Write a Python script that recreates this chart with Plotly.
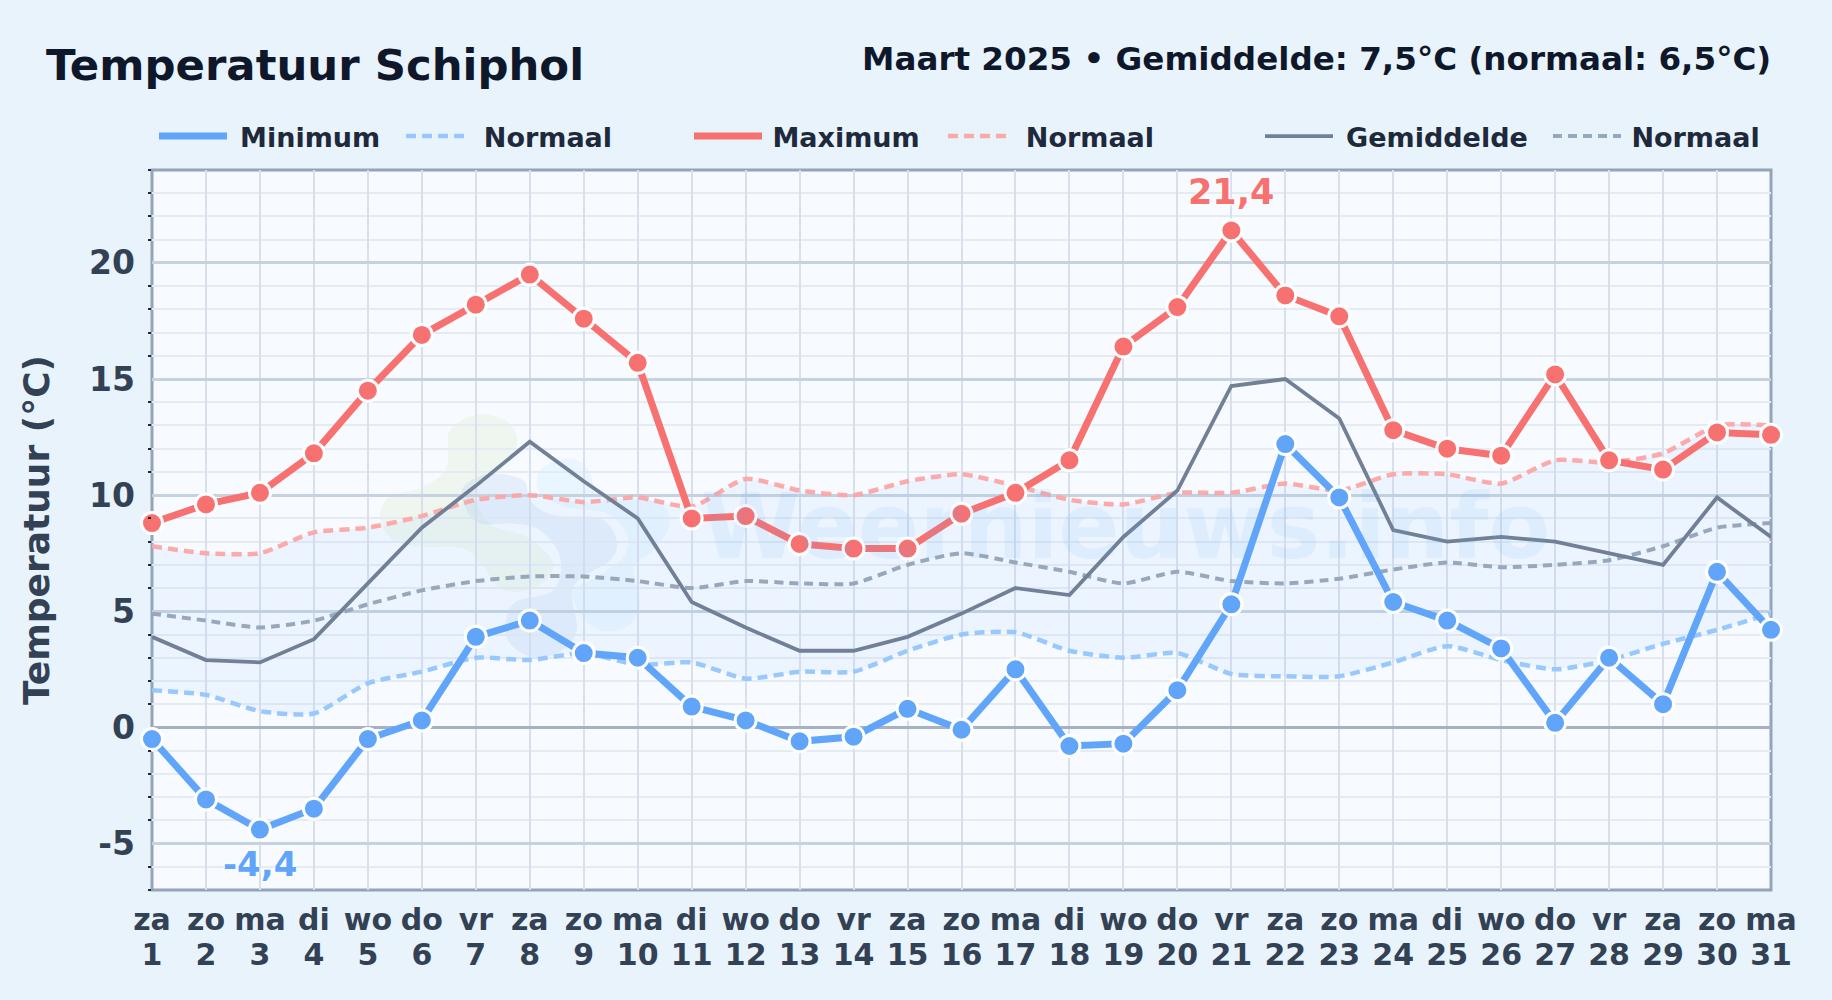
import plotly.graph_objects as go

days = list(range(1, 32))
weekdays = ["za","zo","ma","di","wo","do","vr","za","zo","ma","di","wo","do","vr","za","zo","ma","di","wo","do","vr","za","zo","ma","di","wo","do","vr","za","zo","ma"]
t_min = [-0.5,-3.1,-4.4,-3.5,-0.5,0.3,3.9,4.6,3.2,3.0,0.9,0.3,-0.6,-0.4,0.8,-0.1,2.5,-0.8,-0.7,1.6,5.3,12.2,9.9,5.4,4.6,3.4,0.2,3.0,1.0,6.7,4.2]
t_max = [8.8,9.6,10.1,11.8,14.5,16.9,18.2,19.5,17.6,15.7,9.0,9.1,7.9,7.7,7.7,9.2,10.1,11.5,16.4,18.1,21.4,18.6,17.7,12.8,12.0,11.7,15.2,11.5,11.1,12.7,12.6]
t_mean = [3.9,2.9,2.8,3.8,6.2,8.6,10.4,12.3,10.6,9.0,5.4,4.3,3.3,3.3,3.9,4.9,6.0,5.7,8.2,10.2,14.7,15.0,13.3,8.5,8.0,8.2,8.0,7.5,7.0,9.9,8.2]
norm_min = [1.6,1.4,0.7,0.6,1.9,2.4,3.0,2.9,3.2,2.7,2.8,2.1,2.4,2.4,3.3,4.0,4.1,3.3,3.0,3.2,2.3,2.2,2.2,2.8,3.5,2.9,2.5,2.9,3.6,4.2,4.9]
norm_max = [7.8,7.5,7.5,8.4,8.6,9.1,9.8,10.0,9.7,9.9,9.5,10.7,10.2,10.0,10.6,10.9,10.4,9.8,9.6,10.1,10.1,10.5,10.2,10.9,10.9,10.5,11.5,11.4,11.8,13.0,13.0]
norm_mean = [4.9,4.6,4.3,4.6,5.3,5.9,6.3,6.5,6.5,6.3,6.0,6.3,6.2,6.2,7.0,7.5,7.1,6.7,6.2,6.7,6.3,6.2,6.4,6.8,7.1,6.9,7.0,7.2,7.8,8.6,8.8]

BLUE = "#60a5fa"; RED = "#f87171"; SLATE = "#718096"
FONT = "DejaVu Sans"
W, H = 1832, 1000
L, R, T, B = 152, 1771, 169.5, 890

fig = go.Figure()
fig.add_trace(go.Scatter(x=days, y=norm_min, mode="lines", line=dict(width=0, shape="spline", smoothing=0.6), showlegend=False, hoverinfo="skip"))
fig.add_trace(go.Scatter(x=days, y=norm_max, mode="lines", line=dict(width=0, shape="spline", smoothing=0.6), fill="tonexty", fillcolor="rgba(147,197,253,0.10)", showlegend=False, hoverinfo="skip"))

def line(y, name, color, width, dash, legend, spline=False):
    fig.add_trace(go.Scatter(x=days, y=y, name=name, mode="lines", cliponaxis=False,
        line=dict(color=color, width=width, dash=dash, shape="spline" if spline else "linear", smoothing=0.6),
        legend=legend, hovertemplate=name.strip() + ": %{y}<extra></extra>"))

NB, THIN, HAIR = "\u00a0", "\u2009", "\u200a"
line(norm_min, NB + THIN + "Normaal", "rgba(147,197,253,0.95)", 4.5, "10px,6px", "legend2", spline=True)
line(norm_max, NB + THIN + "Normaal", "rgba(252,165,165,0.95)", 4.5, "10px,6px", "legend4", spline=True)
line(norm_mean, THIN + "Normaal", "rgba(148,163,184,0.95)", 4, "9px,6px", "legend6", spline=True)
line(t_mean, THIN + HAIR + "Gemiddelde", SLATE, 3.8, "solid", "legend5")
line(t_min, THIN + HAIR + "Minimum", BLUE, 7, "solid", "legend")
line(t_max, THIN + "Maximum", RED, 7, "solid", "legend3")

def markers(y, color):
    fig.add_trace(go.Scatter(x=days, y=y, mode="markers", cliponaxis=False, showlegend=False, hoverinfo="skip",
        marker=dict(size=21, color=color, line=dict(color="white", width=3))))
markers(t_min, BLUE)
markers(t_max, RED)

# carrier trace so the second row of the x labels (day numbers) gets its own axis
fig.add_trace(go.Scatter(x=days, y=t_mean, xaxis="x2", mode="lines", line=dict(width=0), showlegend=False, hoverinfo="skip"))

i_hi = t_max.index(max(t_max)); i_lo = t_min.index(min(t_min))
fmt = lambda v: f"{v:.1f}".replace(".", ",")
halo = "0 0 3px #fff, 0 0 3px #fff, 0 0 3px #fff"
annotations = [
    dict(x=days[i_hi], y=t_max[i_hi], text=fmt(t_max[i_hi]), showarrow=False, yshift=38, font=dict(family=FONT, size=35, color=RED, weight="bold", shadow=halo)),
    dict(x=days[i_lo], y=t_min[i_lo], text=fmt(t_min[i_lo]), showarrow=False, yshift=-34, font=dict(family=FONT, size=34, color=BLUE, weight="bold", shadow=halo)),
]

px = lambda x: (x - L) / (R - L)
py = lambda y: (B - y) / (B - T)

annotations += [
    dict(xref="paper", yref="paper", x=px(1125), y=py(526), text="Weernieuws.info", showarrow=False, font=dict(family=FONT, size=90, color="rgba(96,165,250,0.10)", weight="bold")),
    dict(xref="paper", yref="paper", x=px(44), y=py(64), xanchor="left", yanchor="middle", showarrow=False, text="Temperatuur Schiphol", font=dict(family=FONT, size=43.4, color="#0f172a", weight="bold")),
    dict(xref="paper", yref="paper", x=px(1773), y=py(58), xanchor="right", yanchor="middle", showarrow=False, text="Maart 2025 • Gemiddelde: 7,5°C (normaal: 6,5°C)", font=dict(family=FONT, size=32.6, color="#0f172a", weight="bold")),
]

# faint logo behind the watermark text (outline points are picture pixels, zoom-3 crop at 340,390)
def blob(points, color):
    P = [(340 + a / 3, 390 + b / 3) for a, b in points]
    n = len(P)
    d = f"M {px(P[0][0]):.5f} {py(P[0][1]):.5f}"
    for i in range(n):
        p0, p1, p2, p3 = P[i - 1], P[i], P[(i + 1) % n], P[(i + 2) % n]
        c1 = (p1[0] + (p2[0] - p0[0]) / 6, p1[1] + (p2[1] - p0[1]) / 6)
        c2 = (p2[0] - (p3[0] - p1[0]) / 6, p2[1] - (p3[1] - p1[1]) / 6)
        d += f" C {px(c1[0]):.5f} {py(c1[1]):.5f} {px(c2[0]):.5f} {py(c2[1]):.5f} {px(p2[0]):.5f} {py(p2[1]):.5f}"
    return dict(type="path", path=d + " Z", xref="paper", yref="paper", fillcolor=color, line=dict(width=0), layer="below")

shapes = [
    blob([(330,120),(420,72),(510,100),(530,170),(480,240),(400,300),(450,400),(560,440),(640,520),(590,590),(490,600),(430,530),(370,475),(250,470),(160,450),(120,380),(150,320),(250,290),(320,230)], "rgba(205,232,175,0.20)"),
    blob([(370,290),(450,250),(550,270),(570,330),(640,375),(780,385),(830,450),(810,510),(700,590),(710,720),(650,790),(560,795),(500,740),(520,640),(640,600),(660,500),(600,420),(520,400),(420,400),(375,350)], "rgba(147,190,235,0.18)"),
    blob([(600,240),(680,205),(740,230),(790,320),(950,335),(990,400),(940,480),(880,530),(900,640),(860,710),(780,720),(720,670),(700,600),(770,560),(850,500),(860,430),(800,370),(680,350),(600,310)], "rgba(186,225,253,0.22)"),
    dict(type="rect", xref="paper", yref="paper", x0=0, x1=1, y0=0, y1=1, line=dict(color="#94a3b8", width=3), fillcolor="rgba(0,0,0,0)", layer="below"),
]

tick_font = dict(family=FONT, size=30, color="#334155", weight="bold")
fig.update_xaxes(range=[1, 31], tickmode="array", tickvals=days, ticktext=weekdays, ticks="", showgrid=True, gridcolor="#d8e0ec", gridwidth=2,
    zeroline=False, showline=False, tickfont=tick_font, ticklabeloverflow="allow", ticklabelstandoff=9)
fig.update_yaxes(range=[-7, 24], tickmode="array", tickvals=[-5,0,5,10,15,20], ticktext=["-5","0","5","10","15","20"], ticks="", showgrid=True, gridcolor="#c6d2e0", gridwidth=2.5,
    zeroline=True, zerolinecolor="#a6b2c3", zerolinewidth=2.8, ticklabelstandoff=16, showline=False,
    minor=dict(tickmode="array", tickvals=[v for v in range(-7, 25) if v % 5], showgrid=True, gridcolor="#e5ebf2", gridwidth=2, ticks="outside", ticklen=3, tickwidth=1.5, tickcolor="#1e293b"),
    tickfont=dict(family=FONT, size=33, color="#334155", weight="bold"),
    title=dict(text="Temperatuur (°C)", standoff=28, font=dict(family=FONT, size=36, color="#334155", weight="bold")))

lx = {"legend": 154, "legend2": 401, "legend3": 689, "legend4": 943, "legend5": 1260, "legend6": 1548}
lw = {"legend": 68, "legend2": 58, "legend3": 68, "legend4": 58, "legend5": 68, "legend6": 68}
legends = {}
for k in lx:
    legends[k] = dict(x=px(lx[k]), y=py(136), xanchor="left", yanchor="middle", orientation="h", bgcolor="rgba(0,0,0,0)",
        itemwidth=lw[k], font=dict(family=FONT, size=27, color="#1e293b", weight="bold"), itemclick=False, itemdoubleclick=False)

fig.update_layout(width=W, height=H, autosize=False, margin=dict(l=L, r=W-R, t=T, b=H-B),
    paper_bgcolor="#e8f3fc", plot_bgcolor="#f7fbff", showlegend=True, hovermode="x",
    xaxis2=dict(overlaying="x", anchor="y", side="bottom", range=[1, 31], tickmode="array", tickvals=days, ticktext=[str(d) for d in days],
                showgrid=False, zeroline=False, showline=False, ticks="", tickfont=tick_font, ticklabeloverflow="allow", ticklabelstandoff=44),
    annotations=annotations, shapes=shapes, **legends)
fig.write_html("out.html", config={"displayModeBar": False}, post_script="document.body.style.margin='0';document.body.style.overflow='hidden';")
